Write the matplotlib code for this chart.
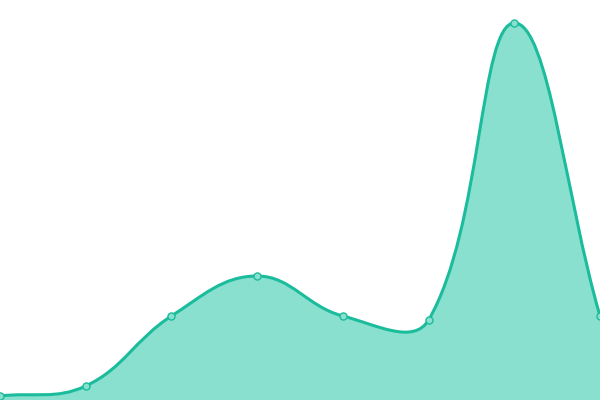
import numpy as np
import matplotlib
matplotlib.use("Agg")
import matplotlib.pyplot as plt
from matplotlib.path import Path
from matplotlib.patches import PathPatch

categories = ["A", "B", "C", "D", "E", "F", "G", "H"]
values = [4, 14, 84, 124, 84, 80, 377, 84]

LINE = "#1abc9c"
FILL = "#8ae0cf"
TENSION = 0.4

fig = plt.figure(figsize=(6, 4), dpi=100)
ax = fig.add_axes([0, 0, 1, 1])
ax.set_xlim(0, len(values) - 1)
ax.set_ylim(0, 400)
ax.axis("off")

x = np.arange(len(values), dtype=float)
y = np.array(values, dtype=float)

# spline computed in display (pixel) space, then mapped back to data space
pts = ax.transData.transform(np.column_stack([x, y]))
n = len(pts)
cp_prev = [None] * n
cp_next = [None] * n
for i in range(n):
    cur = pts[i]
    prev = pts[i - 1] if i > 0 else cur
    nxt = pts[i + 1] if i < n - 1 else cur
    d01 = np.hypot(*(cur - prev))
    d12 = np.hypot(*(nxt - cur))
    tot = d01 + d12
    s01 = d01 / tot if tot else 0
    s12 = d12 / tot if tot else 0
    cp_prev[i] = cur - TENSION * s01 * (nxt - prev)
    cp_next[i] = cur + TENSION * s12 * (nxt - prev)

disp_verts = [pts[0]]
codes = [Path.MOVETO]
for i in range(n - 1):
    disp_verts += [cp_next[i], cp_prev[i + 1], pts[i + 1]]
    codes += [Path.CURVE4] * 3
verts = [tuple(v) for v in ax.transData.inverted().transform(np.array(disp_verts))]

area_verts = verts + [(x[-1], 0), (x[0], 0), (x[0], y[0])]
area_codes = codes + [Path.LINETO, Path.LINETO, Path.CLOSEPOLY]
ax.add_patch(PathPatch(Path(area_verts, area_codes), facecolor=FILL, edgecolor="none", zorder=1))
ax.add_patch(PathPatch(Path(verts, codes), facecolor="none", edgecolor=LINE, linewidth=2.2, zorder=2))
ax.scatter(x, y, s=26, facecolor=FILL, edgecolor=LINE, linewidth=1.0, zorder=3)

fig.savefig("out.png", dpi=100)
